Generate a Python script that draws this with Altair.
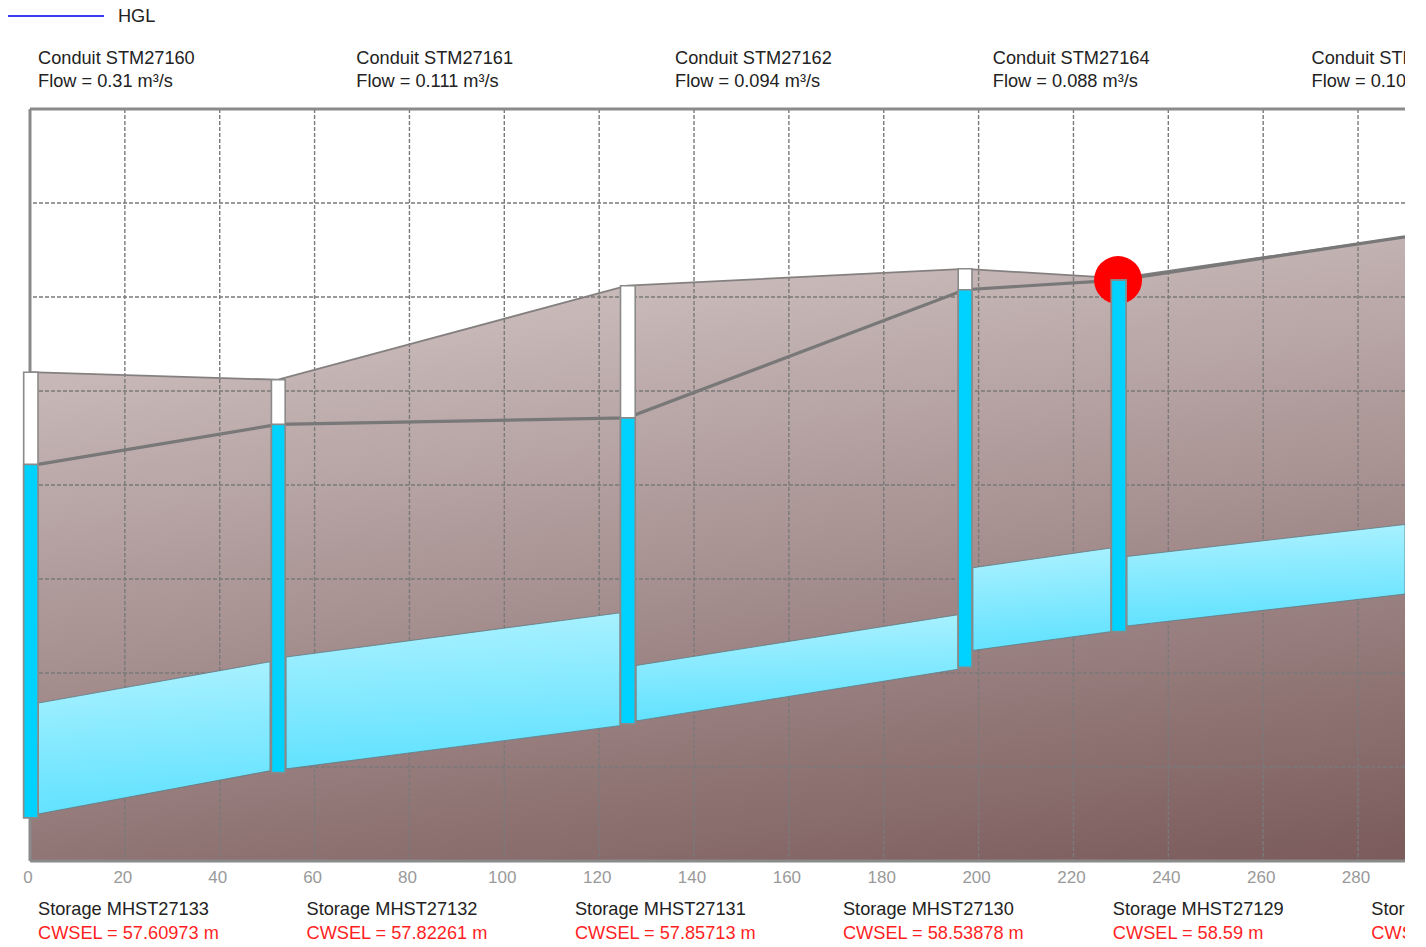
import altair as alt
import pandas as pd

# Chainage (m) and elevation (m)
ground_x = [0, 52.3, 125.9, 197.1, 229.4, 289.9]
ground_y = [58.10, 58.06, 58.56, 58.65, 58.60, 58.82]

hgl_x = [1.7, 52.3, 125.9, 197.1, 229.4, 289.9]
hgl_y = [57.60973, 57.82261, 57.85713, 58.53878, 58.59, 58.82]

conduit_id = [1, 1, 2, 2, 3, 3, 4, 4, 5, 5]
conduit_x = [1.7, 50.6, 54.0, 124.4, 127.8, 195.7, 198.8, 227.9, 231.3, 289.9]
conduit_top = [56.34, 56.56, 56.585, 56.82, 56.54, 56.81, 57.06, 57.165, 57.12, 57.29]
conduit_bot = [55.75, 55.98, 55.99, 56.22, 56.245, 56.52, 56.62, 56.72, 56.75, 56.92]

node_x0 = [-1.33, 50.9, 124.5, 195.7, 228.0]
node_x1 = [1.69, 53.8, 127.6, 198.6, 231.1]
node_top = [58.10, 58.06, 58.56, 58.65, 58.59]
node_water = [57.60973, 57.82261, 57.85713, 58.53878, 58.59]
node_bot = [55.73, 55.97, 56.23, 56.53, 56.72]

flood_x = [229.4]
flood_y = [58.59]

x_ticks = list(range(0, 281, 20))
y_grid = [56.0, 56.5, 57.0, 57.5, 58.0, 58.5, 59.0]
frame_y = [59.5, 55.5]
x_grid = x_ticks[1:]

conduit_lx = [1.69, 68.8, 136.0, 203.0, 270.2]
conduit_l1 = ["Conduit STM27160", "Conduit STM27161", "Conduit STM27162", "Conduit STM27164", "Conduit STM27165"]
conduit_l2 = ["Flow = 0.31 m³/s", "Flow = 0.111 m³/s", "Flow = 0.094 m³/s", "Flow = 0.088 m³/s", "Flow = 0.104 m³/s"]
conduit_y1 = 59.766
conduit_y2 = 59.644

storage_lx = [1.69, 58.3, 114.9, 171.4, 228.3, 282.8]
storage_l1 = ["Storage MHST27133", "Storage MHST27132", "Storage MHST27131", "Storage MHST27130", "Storage MHST27129", "Storage MHST27128"]
storage_l2 = ["CWSEL = 57.60973 m", "CWSEL = 57.82261 m", "CWSEL = 57.85713 m", "CWSEL = 58.53878 m", "CWSEL = 58.59 m", "CWSEL = 58.82 m"]
storage_y1 = 55.237
storage_y2 = 55.114

legend_x = [-5.27]
legend_x2 = [15.6]
legend_y = 59.995
legend_ty = 59.99
legend_tx = 18.55

FONT = "Liberation Sans"
FS = 18.2

xs = alt.Scale(domain=[0, 289.9], nice=False, zero=False)
ys = alt.Scale(domain=[55.5, 59.5], nice=False, zero=False)
x_axis = alt.Axis(
    values=x_ticks, grid=False, domain=False, ticks=False, title=None,
    labelColor="#9a9a9a", labelFont=FONT, labelFontSize=17, labelOffset=-2.5,
    labelPadding=8, labelFlush=False, labelOverlap=False, format="d",
)
X = lambda f: alt.X(f, type="quantitative", scale=xs, axis=x_axis)
Y = lambda f: alt.Y(f, type="quantitative", scale=ys, axis=None)

ground_df = pd.DataFrame({"x": ground_x, "y": ground_y, "b": [55.5] * len(ground_x)})
ground_grad = alt.LinearGradient(
    gradient="linear",
    stops=[alt.GradientStop(color="#d8cccc", offset=0), alt.GradientStop(color="#7b5b5b", offset=1)],
    x1=0, y1=0, x2=0.36, y2=1.19,
)
ground = alt.Chart(ground_df).mark_area(fill=ground_grad).encode(x=X("x"), y=Y("y"), y2="b:Q")
ground_line = alt.Chart(ground_df).mark_line(color="#858080", strokeWidth=1.8).encode(x=X("x"), y=Y("y"))

grid_style = dict(color="#7a7a7a", strokeWidth=1.4, strokeDash=[4, 2])
gx = alt.Chart(pd.DataFrame({"x": x_grid})).mark_rule(**grid_style).encode(x=X("x"))
gy = alt.Chart(pd.DataFrame({"y": y_grid})).mark_rule(**grid_style).encode(y=Y("y"))

frame_h = alt.Chart(pd.DataFrame({"y": frame_y})).mark_rule(color="#8a8a8a", strokeWidth=3).encode(y=Y("y"))
frame_v = alt.Chart(pd.DataFrame({"x": [0]})).mark_rule(color="#8a8a8a", strokeWidth=3).encode(x=X("x"))

water_grad = alt.LinearGradient(
    gradient="linear",
    stops=[alt.GradientStop(color="#aef2ff", offset=0), alt.GradientStop(color="#62e2ff", offset=1)],
    x1=0, y1=0, x2=0.1, y2=1,
)
water_df = pd.DataFrame({"id": conduit_id, "x": conduit_x, "t": conduit_top, "b": conduit_bot})
water = alt.Chart(water_df).mark_area(fill=water_grad, stroke="#5f7a82", strokeWidth=0.8).encode(
    x=X("x"), y=Y("t"), y2="b:Q", detail="id:N"
)

hgl = alt.Chart(pd.DataFrame({"x": hgl_x, "y": hgl_y})).mark_line(color="#787878", strokeWidth=3.2).encode(x=X("x"), y=Y("y"))

flood = alt.Chart(pd.DataFrame({"x": flood_x, "y": flood_y})).mark_point(
    filled=True, color="#ff0000", size=2304, opacity=1, shape="circle"
).encode(x=X("x"), y=Y("y"))

node_df = pd.DataFrame({"x0": node_x0, "x1": node_x1, "top": node_top, "w": node_water, "bot": node_bot})
node_bg = alt.Chart(node_df).mark_rect(fill="#ffffff", stroke="#8a8a8a", strokeWidth=1.6).encode(
    x=X("x0"), x2="x1:Q", y=Y("top"), y2="bot:Q"
)
node_fill = alt.Chart(node_df).mark_rect(fill="#00d2ff", stroke="#8a8a8a", strokeWidth=1.6).encode(
    x=X("x0"), x2="x1:Q", y=Y("w"), y2="bot:Q"
)


def label_layer(xs_vals, texts, yv, color):
    df = pd.DataFrame({"x": xs_vals, "t": texts, "y": [yv] * len(texts)})
    return alt.Chart(df).mark_text(
        align="left", baseline="middle", font=FONT, fontSize=FS, color=color
    ).encode(x=X("x"), y=Y("y"), text="t:N")


legend_line = alt.Chart(pd.DataFrame({"x": legend_x, "x2": legend_x2, "y": [legend_y]})).mark_rule(
    color="#3c3cf0", strokeWidth=2
).encode(x=X("x"), x2="x2:Q", y=Y("y"))

chart = alt.layer(
    ground, gx, gy, ground_line, frame_h, frame_v, water, hgl, flood, node_bg, node_fill,
    label_layer(conduit_lx, conduit_l1, conduit_y1, "#222222"),
    label_layer(conduit_lx, conduit_l2, conduit_y2, "#222222"),
    label_layer(storage_lx, storage_l1, storage_y1, "#222222"),
    label_layer(storage_lx, storage_l2, storage_y2, "#ff1f1f"),
    legend_line,
    label_layer([legend_tx], ["HGL"], legend_ty, "#222222"),
).properties(
    width=1397, height=931,
    padding={"left": 22, "top": 101, "right": 0, "bottom": 78},
    autosize=alt.AutoSizeParams(type="none", contains="padding"),
).configure_view(stroke=None)

chart.save("out.html", embed_options={"renderer": "svg", "actions": False})
